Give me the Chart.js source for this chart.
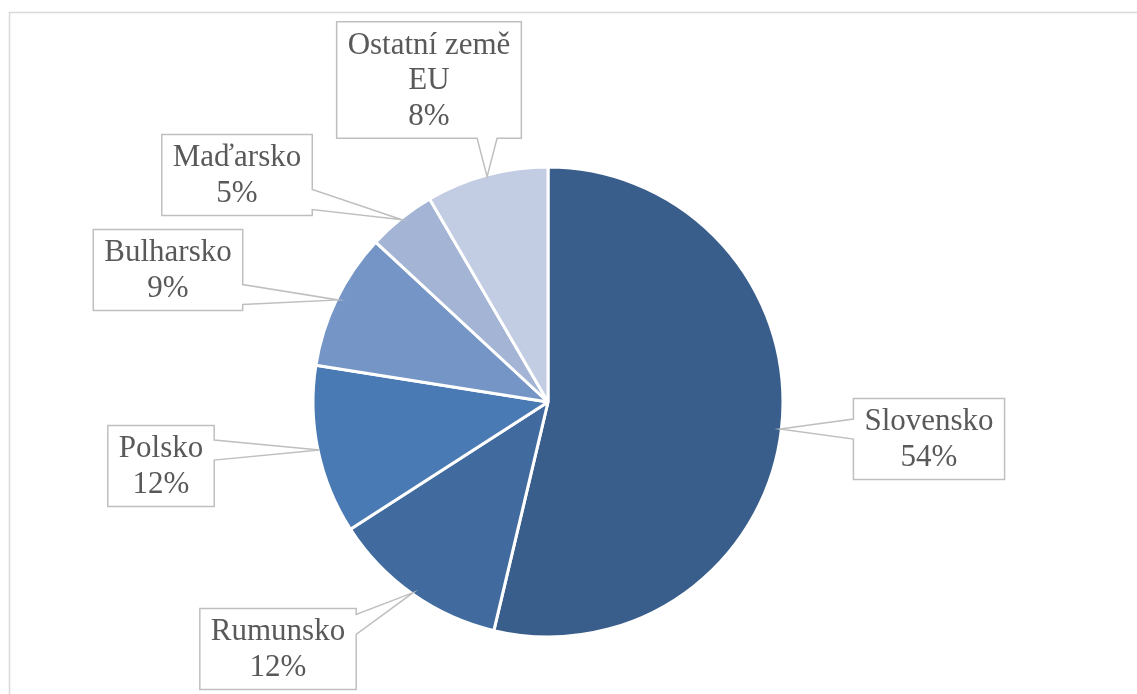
<!DOCTYPE html>
<html>
<head>
<meta charset="utf-8">
<script src="https://cdn.jsdelivr.net/npm/chart.js@4"></script>
<style>
  body { margin: 0; background: #fff; }
  #wrap { width: 1137px; height: 694px; position: relative; }
</style>
</head>
<body>
<div id="wrap"><canvas id="podilChart"></canvas></div>
<script>
const categories = ["Slovensko", "Rumunsko", "Polsko", "Bulharsko", "Maďarsko", "Ostatní země EU"];
const shares = [53.7, 12.2, 11.6, 9.4, 4.7, 8.4];
const sliceColors = ["#3a5e8b", "#416b9e", "#4a7ab3", "#7595c6", "#a3b4d5", "#c2cce2"];

// where each callout box sits, relative to the pie centre (px)
const boxOffsets = [[381, 37], [-270, 247], [-387, 64], [-380, -132], [-311, -227], [-119, -322]];

const frame = {
    id: 'frame',
    beforeDraw(chart) {
        const ctx = chart.ctx;
        ctx.save();
        ctx.strokeStyle = '#d9d9d9';
        ctx.lineWidth = 1.5;
        ctx.strokeRect(9.5, 12.5, 1200, 800);
        ctx.restore();
    }
};

function wrapText(ctx, text, maxW) {
    const words = text.split(' ');
    const lines = [];
    let cur = '';
    words.forEach(w => {
        const test = cur ? cur + ' ' + w : w;
        if (cur && ctx.measureText(test).width > maxW) {
            lines.push(cur);
            cur = w;
        } else {
            cur = test;
        }
    });
    if (cur) lines.push(cur);
    return lines;
}

const callouts = {
    id: 'callouts',
    afterDraw(chart) {
        const ctx = chart.ctx;
        const meta = chart.getDatasetMeta(0);
        const data = chart.data.datasets[0].data;
        const total = data.reduce((a, b) => a + b, 0);
        ctx.save();
        ctx.font = '31px "Liberation Serif", "Times New Roman", serif';
        ctx.textAlign = 'center';
        ctx.textBaseline = 'middle';
        meta.data.forEach((arc, i) => {
            const p = arc.getProps(['x', 'y', 'startAngle', 'endAngle', 'outerRadius'], true);
            const mid = (p.startAngle + p.endAngle) / 2;
            const r = p.outerRadius - 1.5;
            const tx = p.x + Math.cos(mid) * r;
            const ty = p.y + Math.sin(mid) * r;

            const lines = wrapText(ctx, chart.data.labels[i], 180);
            lines.push(Math.round(data[i] / total * 100) + '%');
            const tw = Math.max(...lines.map(l => ctx.measureText(l).width));
            const lineH = 35.5;
            const w = tw + 22;
            const h = lines.length * lineH + 10;
            const cx = p.x + boxOffsets[i][0];
            const cy = p.y + boxOffsets[i][1];
            const x1 = cx - w / 2, x2 = cx + w / 2, y1 = cy - h / 2, y2 = cy + h / 2;

            // pick the side facing the tip
            const ox = tx > x2 ? tx - x2 : (tx < x1 ? x1 - tx : 0);
            const oy = ty > y2 ? ty - y2 : (ty < y1 ? y1 - ty : 0);
            const hw = 10;
            const clamp = (v, a, b) => Math.max(a, Math.min(b, v));
            let side;
            if (ox >= oy) side = tx > x2 ? 'right' : 'left';
            else side = ty > y2 ? 'bottom' : 'top';

            ctx.beginPath();
            ctx.moveTo(x1, y1);
            if (side === 'top') {
                const a = clamp(tx, x1 + hw + 6, x2 - hw - 6);
                ctx.lineTo(a - hw, y1); ctx.lineTo(tx, ty); ctx.lineTo(a + hw, y1);
            }
            ctx.lineTo(x2, y1);
            if (side === 'right') {
                const a = clamp(ty, y1 + hw + 6, y2 - hw - 6);
                ctx.lineTo(x2, a - hw); ctx.lineTo(tx, ty); ctx.lineTo(x2, a + hw);
            }
            ctx.lineTo(x2, y2);
            if (side === 'bottom') {
                const a = clamp(tx, x1 + hw + 6, x2 - hw - 6);
                ctx.lineTo(a + hw, y2); ctx.lineTo(tx, ty); ctx.lineTo(a - hw, y2);
            }
            ctx.lineTo(x1, y2);
            if (side === 'left') {
                const a = clamp(ty, y1 + hw + 6, y2 - hw - 6);
                ctx.lineTo(x1, a + hw); ctx.lineTo(tx, ty); ctx.lineTo(x1, a - hw);
            }
            ctx.closePath();
            ctx.fillStyle = '#ffffff';
            ctx.fill();
            ctx.strokeStyle = '#bfbfbf';
            ctx.lineWidth = 1.5;
            ctx.stroke();

            ctx.fillStyle = '#595959';
            const top = cy - (lines.length - 1) * lineH / 2;
            lines.forEach((l, k) => ctx.fillText(l, cx, top + k * lineH + 1));
        });
        ctx.restore();
    }
};

new Chart(document.getElementById('podilChart'), {
    type: 'pie',
    data: {
        labels: categories,
        datasets: [{
            data: shares,
            backgroundColor: sliceColors,
            borderColor: '#ffffff',
            borderWidth: 3,
            hoverBorderWidth: 3,
            hoverOffset: 0,
            radius: 235
        }]
    },
    options: {
        responsive: true,
        maintainAspectRatio: false,
        animation: false,
        layout: { padding: { left: 0, right: 41, top: 110, bottom: 0 } },
        plugins: {
            legend: { display: false },
            tooltip: { enabled: false }
        }
    },
    plugins: [frame, callouts]
});
</script>
</body>
</html>
